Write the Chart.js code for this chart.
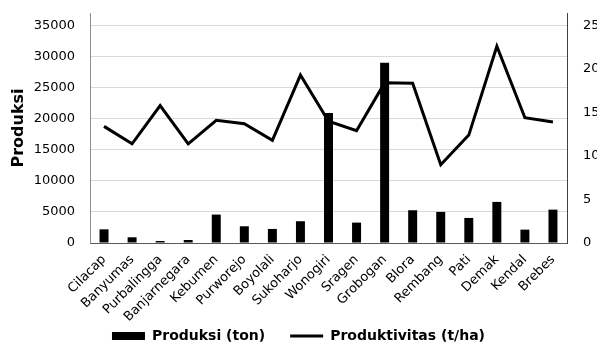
<!DOCTYPE html>
<html>
<head>
<meta charset="utf-8">
<script src="https://cdn.jsdelivr.net/npm/chart.js@4"></script>
<style>
  html, body { margin: 0; padding: 0; background: #fff; }
  #c { display: block; }
</style>
</head>
<body>
<canvas id="c" width="597" height="349"></canvas>
<script>
// Kabupaten in Jawa Tengah
const kabupaten = ['Cilacap', 'Banyumas', 'Purbalingga', 'Banjarnegara', 'Kebumen', 'Purworejo',
  'Boyolali', 'Sukoharjo', 'Wonogiri', 'Sragen', 'Grobogan', 'Blora', 'Rembang', 'Pati',
  'Demak', 'Kendal', 'Brebes'];

// Produksi (ton)
const produksiTon = [2200, 920, 320, 480, 4570, 2690, 2260, 3500, 20920, 3280, 28980,
  5270, 5000, 4030, 6610, 2150, 5370];

// Produktivitas (t/ha)
const produktivitas = [13.4, 11.4, 15.8, 11.4, 14.1, 13.7, 11.8, 19.3, 14.0, 12.9, 18.4,
  18.35, 9.0, 12.4, 22.6, 14.4, 13.9];

// Axis tick labels
const produksiTicks = [0, 5000, 10000, 15000, 20000, 25000, 30000, 35000];
const produktivitasTicks = [0, 5, 10, 15, 20, 25];

Chart.defaults.font.family = "'DejaVu Sans', Verdana, sans-serif";
Chart.defaults.color = '#000';

// Fixed legend band height at the bottom of the canvas
const legendBand = {
  id: 'legendBand',
  beforeLayout(chart) {
    const lg = chart.legend;
    if (lg && !lg._bandFit) {
      const fit = lg.fit.bind(lg);
      lg.fit = function () { fit(); this.height = 45; };
      lg._bandFit = true;
    }
  }
};

new Chart(document.getElementById('c'), {
  data: {
    labels: kabupaten,
    datasets: [
      {
        type: 'bar',
        label: 'Produksi (ton)',
        data: produksiTon,
        yAxisID: 'y',
        backgroundColor: '#000',
        borderWidth: 0,
        barPercentage: 0.32,
        categoryPercentage: 1,
        order: 2
      },
      {
        type: 'line',
        label: 'Produktivitas (t/ha)',
        data: produktivitas,
        yAxisID: 'y1',
        borderColor: '#000',
        backgroundColor: '#000',
        borderWidth: 3,
        pointRadius: 0,
        tension: 0,
        fill: false,
        order: 1
      }
    ]
  },
  plugins: [legendBand],
  options: {
    responsive: false,
    animation: false,
    devicePixelRatio: 1,
    layout: { padding: { top: 13, left: 0, right: 0, bottom: 0 } },
    plugins: {
      tooltip: { enabled: false },
      legend: {
        position: 'bottom',
        labels: {
          usePointStyle: true,
          pointStyleWidth: 33,
          boxHeight: 8,
          padding: 25,
          color: '#000',
          font: { size: 14, weight: 'bold' },
          sort: (a, b) => a.datasetIndex - b.datasetIndex,
          generateLabels(chart) {
            const items = Chart.defaults.plugins.legend.labels.generateLabels(chart);
            items.forEach(it => {
              it.pointStyle = it.datasetIndex === 0 ? 'rect' : 'line';
              it.fillStyle = '#000';
              it.strokeStyle = '#000';
              it.lineWidth = it.datasetIndex === 0 ? 0 : 3;
            });
            return items;
          }
        }
      }
    },
    scales: {
      x: {
        grid: { display: false, drawTicks: false },
        border: { color: '#595959', width: 1 },
        ticks: {
          autoSkip: false,
          minRotation: 45,
          maxRotation: 45,
          padding: 9,
          font: { size: 13 },
          color: '#000'
        },
        afterFit(scale) {
          scale.height = 61;
          scale.paddingLeft = 0;
          scale.paddingRight = 0;
          // rotated category names run below the axis band, so leave them unclipped
          scale._computeLabelArea = () => undefined;
        }
      },
      y: {
        position: 'left',
        min: 0,
        max: 37000,
        afterBuildTicks(scale) { scale.ticks = produksiTicks.map(v => ({ value: v })); },
        grid: { color: '#d9d9d9', lineWidth: 1, drawTicks: false },
        border: { color: '#8c8c8c', width: 1 },
        ticks: { padding: 15, font: { size: 13 }, color: '#000', callback: v => String(v) },
        title: {
          display: true,
          text: 'Produksi',
          font: { size: 16, weight: 'bold' },
          color: '#000',
          padding: { top: 9, bottom: 0 }
        },
        afterFit(scale) {
          scale.width = 90;
          scale.paddingTop = 0;
          scale.paddingBottom = 0;
        }
      },
      y1: {
        position: 'right',
        min: 0,
        max: 37000 / 1400,
        afterBuildTicks(scale) { scale.ticks = produktivitasTicks.map(v => ({ value: v })); },
        grid: { drawOnChartArea: false, drawTicks: false },
        border: { color: '#404040', width: 1 },
        ticks: { padding: 16, font: { size: 13 }, color: '#000', callback: v => String(v) },
        afterFit(scale) {
          scale.width = 30;
          scale.paddingTop = 0;
          scale.paddingBottom = 0;
        }
      }
    }
  }
});
</script>
</body>
</html>
